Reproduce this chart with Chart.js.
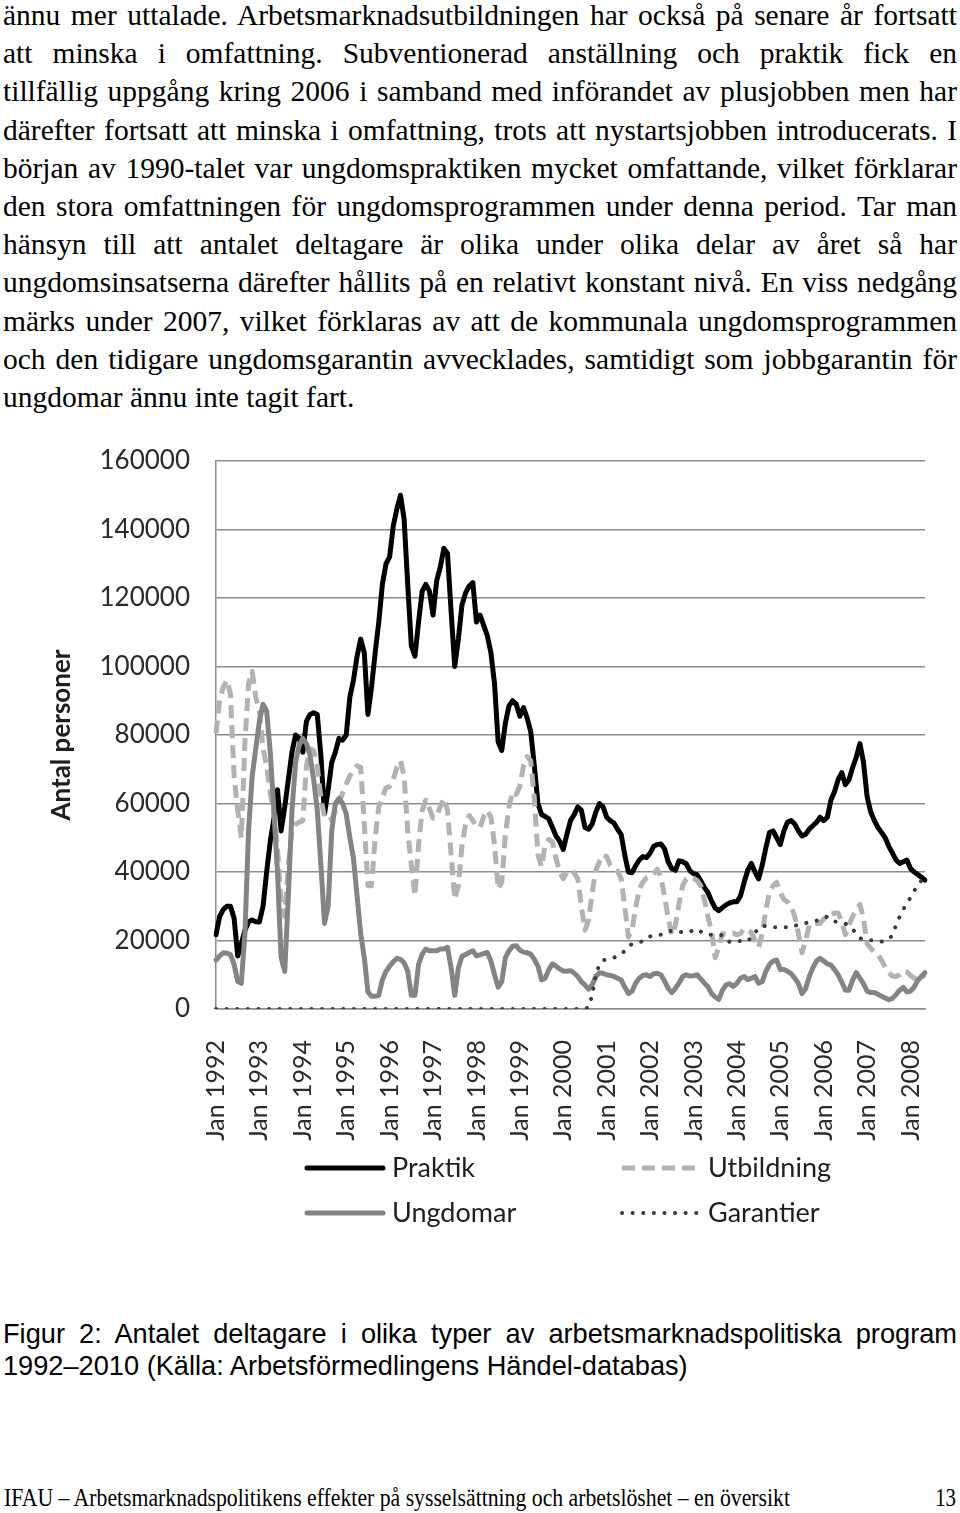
<!DOCTYPE html>
<html>
<head>
<meta charset="utf-8">
<script src="https://cdn.jsdelivr.net/npm/chart.js@4.4.0/dist/chart.umd.min.js"></script>
<style>
  html, body { margin: 0; padding: 0; background: #fff; }
  body { width: 960px; height: 1513px; position: relative; overflow: hidden; }
  #text { position: absolute; left: 3px; top: -4px; width: 954px;
    font-family: "Liberation Serif", "Times New Roman", serif; font-size: 29.5px; line-height: 38.2px; color: #000; }
  .j { text-align: justify; text-align-last: justify; }
  #chartBox { position: absolute; left: 0; top: 440px; width: 960px; height: 800px; }
  #caption { position: absolute; left: 3px; top: 1318px; width: 954px;
    font-family: "Liberation Sans", Arial, sans-serif; font-size: 27.2px; line-height: 32px; color: #000; }
  #foot { position: absolute; left: 4px; top: 1483px; font-family: "Liberation Serif", "Times New Roman", serif;
    font-size: 26px; line-height: 30px; white-space: nowrap; transform-origin: 0 50%; color: #000; }
  #page { position: absolute; right: 4px; top: 1483px; font-family: "Liberation Serif", "Times New Roman", serif;
    font-size: 26px; line-height: 30px; transform-origin: 100% 50%; color: #000; }
</style>
</head>
<body>
<div id="text">
  <div class="j">ännu mer uttalade. Arbetsmarknadsutbildningen har också på senare år fortsatt</div>
  <div class="j">att minska i omfattning. Subventionerad anställning och praktik fick en</div>
  <div class="j">tillfällig uppgång kring 2006 i samband med införandet av plusjobben men har</div>
  <div class="j">därefter fortsatt att minska i omfattning, trots att nystartsjobben introducerats. I</div>
  <div class="j">början av 1990-talet var ungdomspraktiken mycket omfattande, vilket förklarar</div>
  <div class="j">den stora omfattningen för ungdomsprogrammen under denna period. Tar man</div>
  <div class="j">hänsyn till att antalet deltagare är olika under olika delar av året så har</div>
  <div class="j">ungdomsinsatserna därefter hållits på en relativt konstant nivå. En viss nedgång</div>
  <div class="j">märks under 2007, vilket förklaras av att de kommunala ungdomsprogrammen</div>
  <div class="j">och den tidigare ungdomsgarantin avvecklades, samtidigt som jobbgarantin för</div>
  <div>ungdomar ännu inte tagit fart.</div>
</div>

<div id="chartBox"><canvas id="c" width="960" height="800"></canvas></div>

<div id="caption">
  <div class="j">Figur 2: Antalet deltagare i olika typer av arbetsmarknadspolitiska program</div>
  <div>1992–2010 (Källa: Arbetsförmedlingens Händel-databas)</div>
</div>

<div id="foot">IFAU – Arbetsmarknadspolitikens effekter på sysselsättning och arbetslöshet – en översikt</div>
<div id="page">13</div>

<script>
// ---------- DATA ----------
const monthNames = ['Jan','Feb','Mar','Apr','Maj','Jun','Jul','Aug','Sep','Okt','Nov','Dec'];
const firstYear = 1992;
const monthCount = 197; // Jan 1992 .. May 2008

const yearTickLabels = ['Jan 1992','Jan 1993','Jan 1994','Jan 1995','Jan 1996','Jan 1997','Jan 1998','Jan 1999',
  'Jan 2000','Jan 2001','Jan 2002','Jan 2003','Jan 2004','Jan 2005','Jan 2006','Jan 2007','Jan 2008'];

const seriesNames = ['Praktik', 'Utbildning', 'Ungdomar', 'Garantier'];

const praktik = [
  21700, 27000, 29000, 30000, 30000, 26500, 15500, 19000, 23000, 25400, 26000, 25500,
  25400, 30000, 40000, 49000, 55500, 64000, 52000, 59000, 67000, 75000, 80000, 79000,
  75000, 84000, 86000, 86500, 86000, 74000, 57000, 64000, 72000, 75000, 79000, 78500,
  80000, 91000, 96000, 103000, 108000, 104000, 86000, 94000, 104000, 113000, 124000, 130000,
  132000, 141000, 146000, 150000, 143000, 124000, 106000, 103000, 113000, 122000, 124000, 122000,
  115000, 125000, 129000, 134500, 133000, 116000, 100000, 108000, 118000, 121500, 123500, 124500,
  113000, 115000, 112000, 109000, 104000, 95000, 78000, 75500, 83500, 88500, 90000, 89000,
  85500, 88000, 85000, 81000, 71000, 60000, 56800, 56200, 55500, 53000, 50500, 49000,
  46600, 51000, 55000, 56700, 59000, 58000, 53000, 52500, 54000, 57500, 60000, 59000,
  56000, 55000, 54300, 52500, 51000, 45000, 40000, 39800, 41800, 43500, 44500, 44200,
  45500, 47500, 48000, 48200, 46800, 43000, 41000, 40500, 43300, 43000, 42400, 40400,
  39500, 39200, 37500, 35500, 34000, 31500, 29500, 28700, 29600, 30400, 31000, 31300,
  31300, 33000, 37000, 40500, 42500, 40000, 38000, 42000, 47000, 51500, 52000, 50000,
  48000, 52000, 54600, 55000, 54000, 52000, 50500, 51000, 52500, 53500, 54500, 56000,
  55000, 56000, 61000, 63500, 67000, 69000, 65500, 67000, 70500, 73500, 77500, 72000,
  62000, 57500, 55000, 53000, 51500, 50000, 47500, 45500, 43500, 42500, 43000, 43500,
  41000, 40000, 39300, 38500, 37600
];

const utbildning = [
  80500, 90000, 94000, 96000, 92000, 68000, 58000, 50000, 78000, 95000, 98600, 91000,
  87000, 76000, 71000, 63000, 57000, 47000, 30700, 27000, 42000, 52000, 54000, 54500,
  55000, 71000, 76000, 75500, 71000, 61500, 56000, 55000, 55500, 58000, 60300, 63000,
  65700, 68000, 70000, 71000, 70500, 54000, 36000, 36000, 50000, 59000, 62000, 64500,
  65000, 67000, 70500, 72500, 68000, 52000, 42000, 33000, 48000, 58000, 61000, 58500,
  55700, 56500, 59000, 61500, 58000, 45000, 32000, 36000, 47700, 54000, 56500, 55000,
  53500, 53000, 56200, 58000, 56000, 48000, 35000, 37000, 51000, 59000, 63500, 62700,
  65000, 71000, 73700, 72500, 61500, 45000, 41500, 48000, 49500, 48800, 44000, 40000,
  38000, 40000, 40500, 39800, 38000, 30000, 23000, 26000, 34000, 40500, 43000, 45000,
  44500, 42000, 41000, 40300, 38000, 30000, 21000, 23000, 29500, 35000, 37000, 38300,
  38700, 39500, 40800, 38500, 33000, 26500, 21500, 24400, 30700, 36000, 38000, 38500,
  38200, 37500, 36000, 32000, 27000, 22500, 15000, 18000, 22000, 21800, 22000, 22200,
  21700, 22000, 23500, 23000, 22300, 20000, 18000, 22000, 29000, 34000, 36000, 37000,
  34000, 32000, 31300, 30000, 27000, 22000, 16400, 20000, 24400, 25200, 25000, 25000,
  26300, 27000, 27600, 28000, 28000, 25500, 21700, 24500, 27000, 29000, 30500, 26500,
  19000, 17800, 16500, 15900, 14200, 12200, 10600, 9600, 9500, 10000, 11100, 10800,
  9800, 9000, 8500, 9200, 10000
];

const ungdomar = [
  14300, 15500, 16400, 16300, 15900, 13000, 8000, 7500, 22000, 52000, 68000, 76000,
  84000, 89000, 87000, 75000, 58000, 40000, 15000, 11000, 33000, 58000, 72000, 77000,
  79000, 77500, 74000, 67000, 58000, 42000, 25000, 30000, 52000, 60000, 61500, 60000,
  57000, 50000, 44000, 33000, 22000, 15000, 5000, 3700, 3700, 4000, 8500, 11000,
  12500, 13800, 14800, 14500, 13500, 11000, 4000, 4000, 13000, 16000, 17500, 17000,
  17000, 17000, 17500, 17500, 18000, 12000, 4000, 12000, 15400, 15900, 16500, 17000,
  15500, 15800, 16200, 16500, 14000, 10000, 6400, 8000, 15000, 17000, 18300, 18500,
  17200, 16600, 16400, 16000, 14500, 12500, 8500, 9000, 11500, 13200, 12500, 11700,
  11100, 11000, 11200, 10500, 9500, 8000, 7000, 5800, 7000, 9500, 10600, 10400,
  10000, 9800, 9500, 9000, 8500, 6400, 4500, 5200, 7500, 9000, 9800, 10000,
  9500, 10300, 10400, 10000, 8200, 6000, 4800, 6000, 7600, 9500, 10000, 9600,
  9700, 10000, 8800, 7600, 6500, 4500, 3500, 2800, 5500, 7000, 7400, 6600,
  7500, 9000, 9500, 8600, 9000, 9500, 7500, 8000, 11000, 13000, 14000, 14300,
  11500, 11500, 11000, 10300, 9000, 7400, 4500, 6000, 9500, 12000, 14000, 14800,
  14000, 13200, 12800, 11500, 10000, 7800, 5500, 5500, 8500, 10600, 9000, 7400,
  5200, 4800, 4800, 4300, 3700, 3200, 2700, 3100, 4200, 5500, 6300, 5000,
  5200, 6400, 8400, 9500, 10600
];

const garantier = [
  0, 0, 0, 0, 0, 0, 0, 0, 0, 0, 0, 0,
  0, 0, 0, 0, 0, 0, 0, 0, 0, 0, 0, 0,
  0, 0, 0, 0, 0, 0, 0, 0, 0, 0, 0, 0,
  0, 0, 0, 0, 0, 0, 0, 0, 0, 0, 0, 0,
  0, 0, 0, 0, 0, 0, 0, 0, 0, 0, 0, 0,
  0, 0, 0, 0, 0, 0, 0, 0, 0, 0, 0, 0,
  0, 0, 0, 0, 0, 0, 0, 0, 0, 0, 0, 0,
  0, 0, 0, 0, 0, 0, 0, 0, 0, 0, 0, 0,
  0, 0, 0, 0, 0, 0, 0, 500, 4000, 10000, 13000, 14200,
  14500, 14800, 15000, 15400, 16000, 17000, 18200, 19000, 19300, 19500, 19800, 20500,
  21200, 21400, 21600, 21700, 22200, 22700, 22800, 22800, 22600, 22400, 22300, 22600,
  23000, 23300, 22600, 21900, 21700, 21700, 21700, 21700, 21500, 20200, 19600, 19600,
  19600, 19900, 20000, 19800, 21000, 22300, 23500, 24300, 24200, 24000, 23900, 23900,
  23900, 23900, 23900, 23900, 24300, 24600, 24900, 25100, 25400, 25600, 25800, 26000,
  26500, 27000, 26500, 25600, 25300, 25100, 24900, 24200, 23300, 22000, 20700, 20300,
  20100, 20100, 20100, 19900, 19700, 19900, 20500, 21500, 24500, 27000, 29000, 31000,
  32500, 34500, 36000, 37500, 38500
];

// category labels (one per month) built from the month names
const categories = [];
for (let i = 0; i < monthCount; i++) {
  categories.push(monthNames[i % 12] + ' ' + (firstYear + Math.floor(i / 12)));
}

// ---------- CHART ----------
const FONT = 'Lato, "Open Sans", sans-serif';

const gridLegend = {
  id: 'gridLegend',
  afterDraw(chart) {
    const ctx = chart.ctx;
    const slots = [
      { x0: 307, x1: 383, tx: 392, y: 728 },
      { x0: 622, x1: 700, tx: 708, y: 728 },
      { x0: 307, x1: 383, tx: 392, y: 773 },
      { x0: 622, x1: 700, tx: 708, y: 773 }
    ];
    chart.data.datasets.forEach((ds, i) => {
      const s = slots[i];
      ctx.save();
      ctx.strokeStyle = ds.borderColor;
      ctx.lineWidth = ds.borderWidth;
      ctx.lineCap = ds.borderCapStyle || 'butt';
      ctx.setLineDash(ds.borderDash || []);
      ctx.beginPath();
      ctx.moveTo(s.x0, s.y);
      ctx.lineTo(s.x1, s.y);
      ctx.stroke();
      ctx.setLineDash([]);
      ctx.fillStyle = '#1e1e1e';
      ctx.font = '27px ' + FONT;
      ctx.textBaseline = 'middle';
      ctx.textAlign = 'left';
      ctx.fillText(ds.label, s.tx, s.y);
      ctx.restore();
    });
  }
};

const lineCommon = { pointRadius: 0, pointHoverRadius: 0, tension: 0, fill: false, borderJoinStyle: 'round' };

new Chart(document.getElementById('c'), {
  type: 'line',
  data: {
    labels: categories,
    datasets: [
      Object.assign({ label: seriesNames[0], data: praktik, borderColor: '#000000', borderWidth: 5, borderCapStyle: 'round', order: 3 }, lineCommon),
      Object.assign({ label: seriesNames[1], data: utbildning, borderColor: '#b2b2b2', borderWidth: 5, borderDash: [13, 7], borderCapStyle: 'butt', order: 2 }, lineCommon),
      Object.assign({ label: seriesNames[2], data: ungdomar, borderColor: '#848484', borderWidth: 5, borderCapStyle: 'round', order: 1 }, lineCommon),
      Object.assign({ label: seriesNames[3], data: garantier, borderColor: '#3a3a3a', borderWidth: 4, borderDash: [0.1, 10.5], borderCapStyle: 'round', order: 0 }, lineCommon)
    ]
  },
  options: {
    responsive: false,
    animation: false,
    layout: { padding: { top: 21, right: 35, left: 0, bottom: 0 } },
    plugins: { legend: { display: false }, tooltip: { enabled: false } },
    scales: {
      x: {
        type: 'category',
        offset: false,
        grid: { display: false, drawTicks: false },
        border: { display: true, color: '#8c8c8c', width: 1.5 },
        ticks: {
          autoSkip: false, minRotation: 90, maxRotation: 90, padding: 31,
          color: '#2a2a2a', font: { family: FONT, size: 25 },
          callback: function (val) {
            const lab = this.getLabelForValue(val);
            return yearTickLabels.includes(lab) ? lab : '';
          }
        },
        afterFit(scale) {
          scale.height = 231;
          scale.paddingLeft = 0; scale.paddingRight = 0;
        }
      },
      y: {
        min: 0, max: 160000,
        grid: { color: '#8c8c8c', lineWidth: 1.5, drawTicks: false },
        border: { display: true, color: '#8c8c8c', width: 1.5 },
        ticks: {
          stepSize: 20000, padding: 26, color: '#2a2a2a', font: { family: FONT, size: 26 },
          callback: (v) => String(v)
        },
        title: {
          display: true, text: 'Antal personer', color: '#1e1e1e',
          font: { family: FONT, size: 26, weight: 'bold' },
          padding: { top: 46, bottom: 0 }
        },
        afterFit(scale) {
          scale.width = 216;
          scale.paddingTop = 0; scale.paddingBottom = 0;
        }
      }
    }
  },
  plugins: [gridLegend]
});

// fit the (condensed) footer line to its width in the reference
const foot = document.getElementById('foot');
const fw = foot.getBoundingClientRect().width;
foot.style.transform = 'scaleX(' + (786 / fw) + ')';
const pg = document.getElementById('page');
pg.style.transform = 'scaleX(0.8)';
</script>
</body>
</html>
